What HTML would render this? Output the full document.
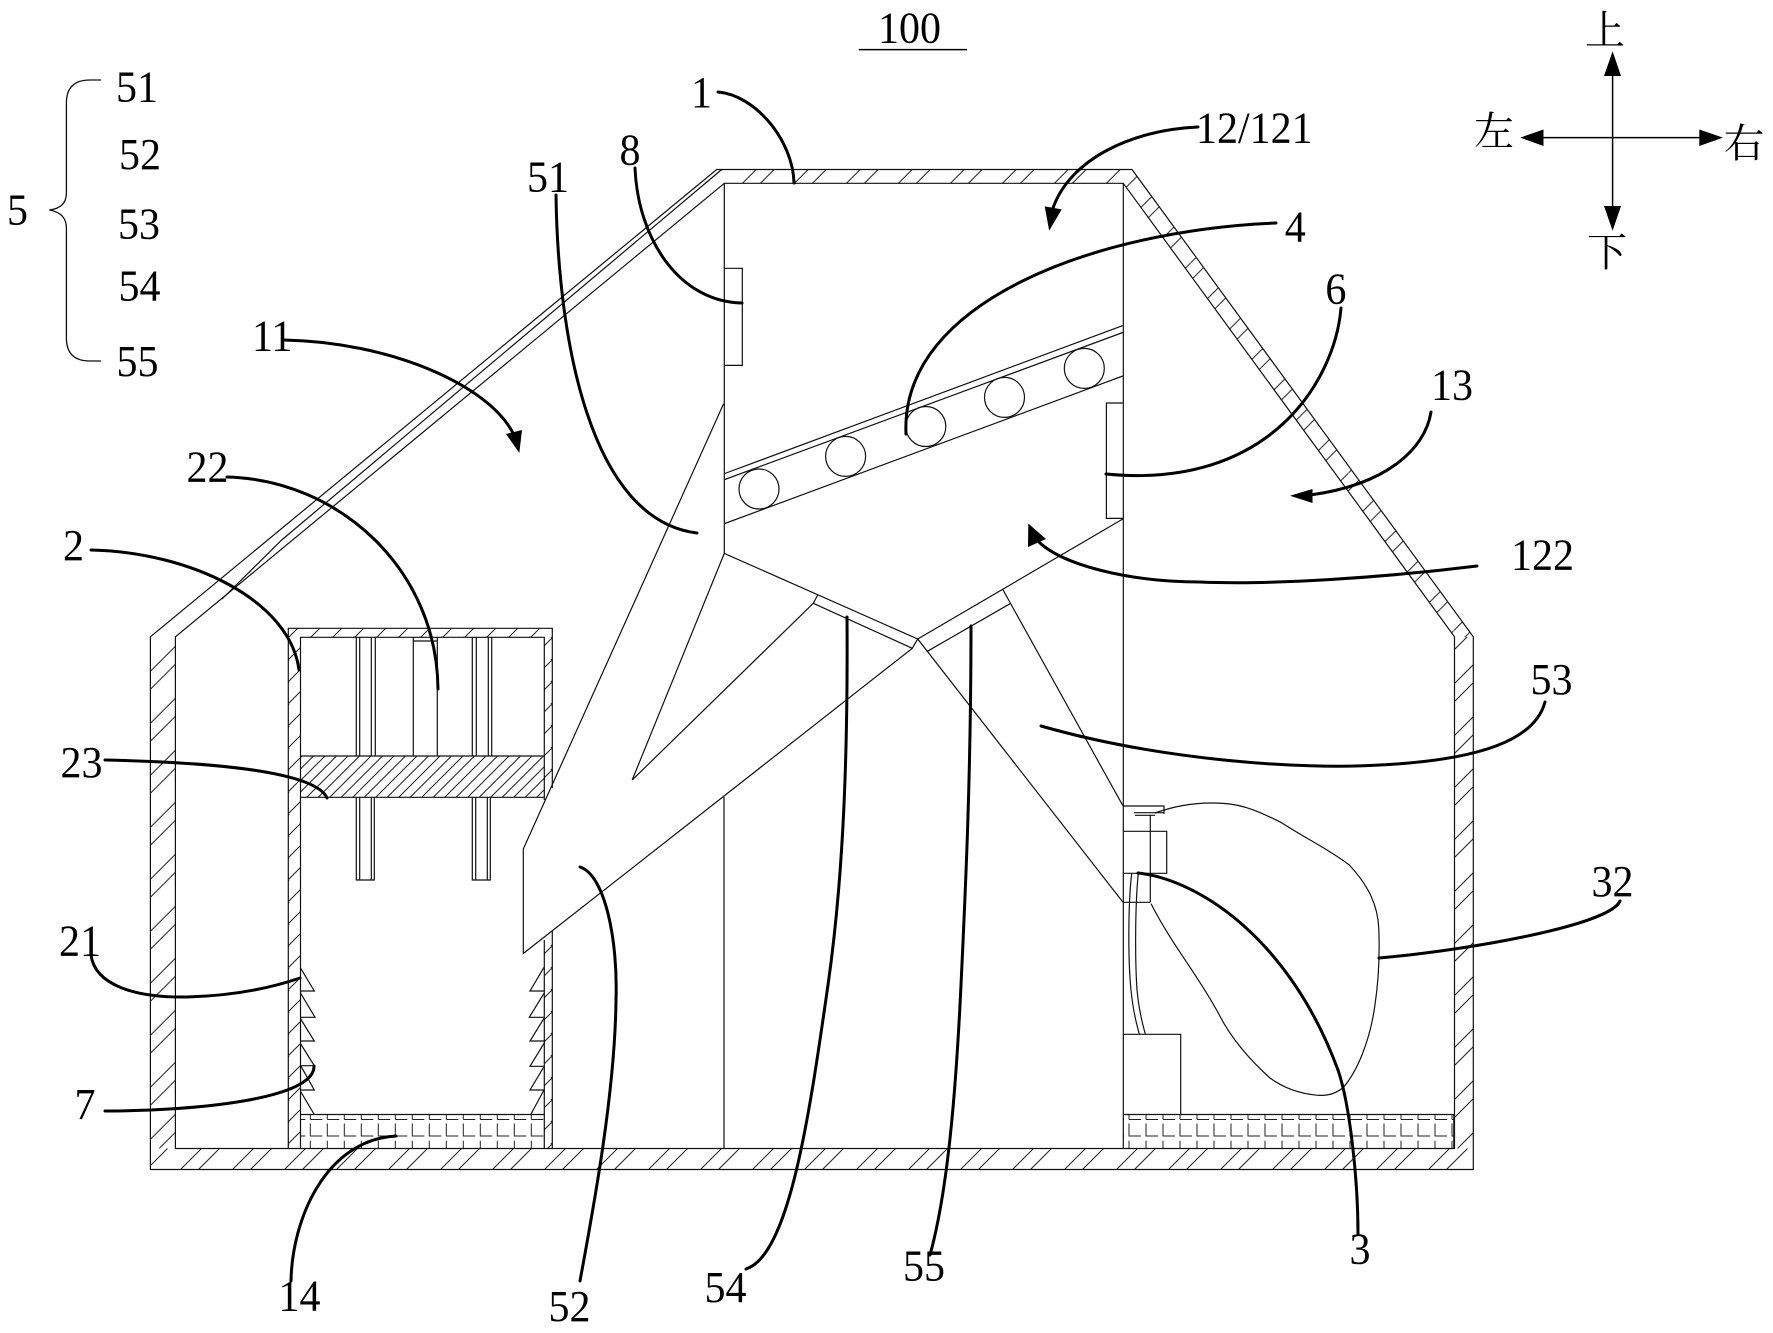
<!DOCTYPE html>
<html><head><meta charset="utf-8"><style>
html,body{margin:0;padding:0;background:#fff}
svg{display:block}
.t{font-family:"Liberation Serif",serif;font-size:42px;fill:#000}
.c{font-family:"Liberation Serif","Noto Serif CJK SC",serif;font-size:40px;fill:#000}
.l{fill:none;stroke:#111;stroke-width:1.2}
.s{fill:none;stroke:#000;stroke-width:3;stroke-linecap:round}
</style></head><body>
<svg width="1773" height="1333" viewBox="0 0 1773 1333" xmlns="http://www.w3.org/2000/svg">
<defs>
<pattern id="p1" patternUnits="userSpaceOnUse" x="0" y="0" width="52" height="52"><path d="M51 -1L-1 51M53 49L49 53M17 -1L-1 17M53 15L15 53" stroke="#222" stroke-width="1" fill="none"/></pattern>
<pattern id="p1r" patternUnits="userSpaceOnUse" x="8" y="0" width="52" height="52"><path d="M51 -1L-1 51M53 49L49 53M17 -1L-1 17M53 15L15 53" stroke="#222" stroke-width="1" fill="none"/></pattern>
<pattern id="p2" patternUnits="userSpaceOnUse" x="-8.3" y="0" width="52" height="52"><path d="M51 -1L-1 51M53 49L49 53M17 -1L-1 17M53 15L15 53" stroke="#222" stroke-width="1" fill="none"/></pattern>
<pattern id="p4" patternUnits="userSpaceOnUse" x="2" y="0" width="22" height="22"><path d="M23 -1L-1 23M2 -1L-1 2M23 20L20 23" stroke="#222" stroke-width="1" fill="none"/></pattern>
<pattern id="p5" patternUnits="userSpaceOnUse" x="0" y="0" width="11.5" height="11.5"><path d="M12.5 -1L-1 12.5M1 -1L-1 1M12.5 10.5L10.5 12.5" stroke="#222" stroke-width="1" fill="none"/></pattern>
<pattern id="p6" patternUnits="userSpaceOnUse" x="34.15" y="0" width="52.57" height="52.57"><path d="M53.57 -1L-1 53.57M18.6 -1L-1 18.6M53.57 16.6L16.6 53.57" stroke="#222" stroke-width="1" fill="none"/></pattern>
<pattern id="b1" patternUnits="userSpaceOnUse" x="309.3" y="1114.5" width="17" height="34"><path d="M1 0V5M1 5H13M1 9V21.5H13M1 26.3V34" stroke="#222" stroke-width="1" fill="none"/></pattern>
<pattern id="b2" patternUnits="userSpaceOnUse" x="1128" y="1114.5" width="17" height="34"><path d="M1 0V5M1 5H13M1 9V21.5H13M1 26.3V34" stroke="#222" stroke-width="1" fill="none"/></pattern>
</defs>
<rect width="1773" height="1333" fill="#fff"/>

<!-- hatched fills -->
<rect x="150.4" y="1148.5" width="1322.9" height="21" fill="url(#p1)"/>
<polygon points="150.4,637 175.4,637 175.4,1148.5 150.4,1148.5" fill="url(#p2)"/>
<rect x="1454.5" y="637" width="18.8" height="511.5" fill="url(#p1r)"/>
<polygon points="721,169.5 1132,169.5 1123.3,183.3 724.3,183.3" fill="url(#p2)"/>
<polygon points="1132,169.5 1473.3,637 1454.5,637 1123.3,183.3" fill="url(#p6)"/>
<rect x="288.3" y="628.3" width="264" height="9" fill="url(#p4)"/>
<rect x="288.3" y="637.3" width="12.2" height="511" fill="url(#p4)"/>
<rect x="544.3" y="637.3" width="8" height="150" fill="url(#p4)"/>
<rect x="544.3" y="936" width="8" height="212" fill="url(#p4)"/>
<rect x="300.5" y="756" width="243.8" height="41.3" fill="url(#p5)"/>
<rect x="300.5" y="1114.5" width="243.8" height="34" fill="url(#b1)"/>
<rect x="1123.3" y="1114.5" width="330.5" height="34" fill="url(#b2)"/>

<!-- shell -->
<g class="l">
<path d="M150.4 1169.5V636.8L716.7 169.5H1132L1473.3 636.8V1169.5Z"/>
<path d="M721.7 169.5L281.7 540L222 599"/>
<path d="M175.4 636.8L724.3 183.3H1123.3L1454.5 636.8V1148.5H175.4Z"/>
<path d="M724.3 183.3V553.4M724 797V1148.5"/>
<path d="M1123.3 183.3V1148.5"/>

<!-- box 2 -->
<path d="M288.3 1148.5V628.3H552.3V788M552.3 931V1148.5"/>
<path d="M300.5 1148.5V637.3H544.3V800M544.3 940V1148.5"/>
<path d="M300.5 756H544.3M300.5 797.3H544.3"/>
<path d="M356.3 637.3V756M359.7 637.3V756M371.3 637.3V756M375.3 637.3V756"/>
<path d="M472.3 637.3V756M476.3 637.3V756M488.3 637.3V756M491.7 637.3V756"/>
<path d="M413.3 637.3V756M437.3 637.3V756M413.3 641H437.3"/>
<path d="M356.3 797.3V880H374.3V797.3M359.7 797.3V880M371.3 797.3V880"/>
<path d="M472.3 797.3V880H490.3V797.3M475.7 797.3V880M487.3 797.3V880"/>
<!-- teeth -->
<path d="M300.7 968.3L314.3 991H300.7M300.7 993.3L315 1017.3H300.7M300.7 1019L314.3 1041H300.7M300.7 1044L314.3 1065.7H300.7M300.7 1065.7L314.3 1090H300.7M300.7 1091.7L314 1114"/>
<path d="M544 967.3L530 991H544M544 993.3L529.3 1017.3H544M544 1018.3L530 1041H544M544 1043.3L530 1066.3H544M544 1066.7L530 1090H544M544 1090L531 1114"/>
<path d="M300.5 1114.5H544.3"/>

<!-- pipes -->
<path d="M723.6 403.8L523.3 849V953.5L912.3 648.3L917.7 639L1122.8 902"/>
<path d="M724.3 553.4L632.2 780L813.3 603.3L817.7 595"/>
<path d="M724.3 553.4L917.7 639"/>
<path d="M813.3 603.3L912.3 648.3"/>
<path d="M917.7 639L1122.8 519M926.7 651.7L1010.7 603.3M1002.7 589.3L1122.8 805.6"/>

<!-- screen -->
<path d="M724.8 473.5L1122.8 325.6M724.8 479.5L1122.8 332.5M724.8 523.5L1122.8 376"/>
<circle cx="759" cy="489" r="20"/><circle cx="845.6" cy="456.4" r="20"/><circle cx="925.8" cy="426.5" r="20"/><circle cx="1004.5" cy="397.4" r="20"/><circle cx="1084.3" cy="368.4" r="20"/>
<!-- sensors -->
<path d="M724.3 268.3H742.3V365.4H724.3"/>
<path d="M1123.3 403H1106.4V518.4H1123.3"/>

<!-- right tray and valve -->
<path d="M1123.3 1114.5H1453.8V1148.5"/>
<path d="M1123.3 806H1164V814M1134 812.7H1164M1135 815.3H1155M1150.3 815.3V902.3"/>
<path d="M1123.3 831.3H1166.7V873.3H1123.3M1123.3 902.3H1150.3"/>
<path d="M1131.7 873.3C1128 905,1128 960,1131 990C1133 1010,1136 1022,1139.3 1034"/>
<path d="M1138.3 873.3C1135 905,1135 960,1137 990C1139 1010,1142 1022,1145.3 1034"/>
<path d="M1123.3 1034.3H1180.7V1114.5"/>
<path d="M1155 813C1180 804,1205 802,1224.8 803.5C1245 805,1260 812,1281.4 822.6C1305 838,1330 850,1349.3 865C1368 885,1378 905,1378.8 929C1380 960,1378 985,1374.8 1006C1370 1040,1358 1070,1343.7 1087C1337 1093,1328 1096,1318 1095.3C1302 1094,1285 1089,1270 1078C1250 1060,1232 1040,1219 1014.4C1198 975,1172 945,1151 903.6"/>
</g>

<!-- brace -->
<path d="M101 80H90Q66.4 80 66.4 103V193Q66.4 208 49.4 210Q66.4 213 66.4 228V338Q66.4 361 90 361H101" fill="none" stroke="#111" stroke-width="1.3"/>
<!-- title underline -->
<path d="M858.7 49.6H967" stroke="#000" stroke-width="1.5"/>

<!-- leaders -->
<g class="s">
<path d="M718 92C755 95,793 140,794 183"/>
<path d="M635 168C638 240,680 302,742 303"/>
<path d="M556 195C558 340,590 520,697 533"/>
<path d="M284 340C390 342,490 385,514 435"/>
<path d="M227 477C340 480,437 570,438 689"/>
<path d="M91 550C190 552,290 600,299 670"/>
<path d="M105 760C200 762,315 770,327 798"/>
<path d="M91 955C95 985,135 998,187 997C225 996,265 990,300 978"/>
<path d="M105 1111C190 1111,315 1100,314 1066"/>
<path d="M291 1281C292 1220,325 1140,396 1136"/>
<path d="M580 867C605 875,618 940,616 1000C615 1090,595 1200,580 1281"/>
<path d="M847 617C848 760,843 880,828 985C810 1110,790 1255,746 1269"/>
<path d="M971 626C971 780,965 900,961 985C956 1090,948 1190,930 1255"/>
<path d="M1138 873C1200 880,1290 940,1338 1070C1350 1105,1358 1180,1358 1234"/>
<path d="M1379 958C1470 950,1610 925,1620 901"/>
<path d="M1041 726C1160 760,1300 770,1380 765C1480 760,1535 740,1545 702"/>
<path d="M1477 566C1380 578,1270 585,1200 582C1130 582,1060 565,1037 540"/>
<path d="M1341 308C1335 380,1270 490,1106 474"/>
<path d="M1276 223C1100 230,900 300,906 434"/>
<path d="M1431 412C1425 450,1385 485,1310 495"/>
<path d="M1198 127C1130 130,1070 160,1053 208"/>
</g>
<!-- arrowheads -->
<g fill="#000">
<polygon points="519.3,453 506,434 522,430"/>
<polygon points="1028.3,523.5 1028,547 1046,539"/>
<polygon points="1290,495.7 1312.5,489 1312.5,503"/>
<polygon points="1049.2,230.8 1044.7,206.4 1061.7,209.4"/>
<polygon points="1612.6,51.3 1604,76 1621,76"/>
<polygon points="1612.6,230.8 1604,206 1621,206"/>
<polygon points="1520.3,137.6 1543.5,129.5 1543.5,146"/>
<polygon points="1723,137.6 1699.3,129.5 1699.3,146"/>
</g>
<path d="M1612.6 60V222M1530 137.6H1712" stroke="#000" stroke-width="1.5" fill="none"/>

<!-- labels -->
<g class="t">
<text transform="translate(878 42.7) scale(1 1.07)">100</text>
<text transform="translate(116 101.7) scale(1 1.07)">51</text>
<text transform="translate(119 168.8) scale(1 1.07)">52</text>
<text transform="translate(118 238.5) scale(1 1.07)">53</text>
<text transform="translate(118.5 300.4) scale(1 1.07)">54</text>
<text transform="translate(116.5 376) scale(1 1.07)">55</text>
<text transform="translate(7 224.4) scale(1 1.07)">5</text>
<text transform="translate(691 106.8) scale(1 1.07)">1</text>
<text transform="translate(619.5 164.5) scale(1 1.07)">8</text>
<text transform="translate(527 191.5) scale(1 1.07)">51</text>
<text transform="translate(252 350.4) scale(1 1.07)">11</text>
<text transform="translate(186.5 481.6) scale(1 1.07)">22</text>
<text transform="translate(63 559.8) scale(1 1.07)">2</text>
<text transform="translate(60.5 777) scale(1 1.07)">23</text>
<text transform="translate(59 955.6) scale(1 1.07)">21</text>
<text transform="translate(74.5 1118.8) scale(1 1.07)">7</text>
<text transform="translate(278.5 1310.5) scale(1 1.07)">14</text>
<text transform="translate(548.5 1321) scale(1 1.07)">52</text>
<text transform="translate(704.5 1302) scale(1 1.07)">54</text>
<text transform="translate(903 1280.7) scale(1 1.07)">55</text>
<text transform="translate(1349.5 1263.6) scale(1 1.07)">3</text>
<text transform="translate(1591.5 896) scale(1 1.07)">32</text>
<text transform="translate(1530.5 694) scale(1 1.07)">53</text>
<text transform="translate(1284.8 241.5) scale(1 1.07)">4</text>
<text transform="translate(1325.4 303.4) scale(1 1.07)">6</text>
<text transform="translate(1431 399.6) scale(1 1.07)">13</text>
<text transform="translate(1511 569.7) scale(1 1.07)">122</text>
<text transform="translate(1196 142.3) scale(1 1.07)">12/121</text>
</g>
<g class="c">
<text x="1585" y="44">上</text>
<text x="1474" y="145">左</text>
<text x="1724" y="157">右</text>
<text x="1587" y="266">下</text>
</g>
</svg>
</body></html>
